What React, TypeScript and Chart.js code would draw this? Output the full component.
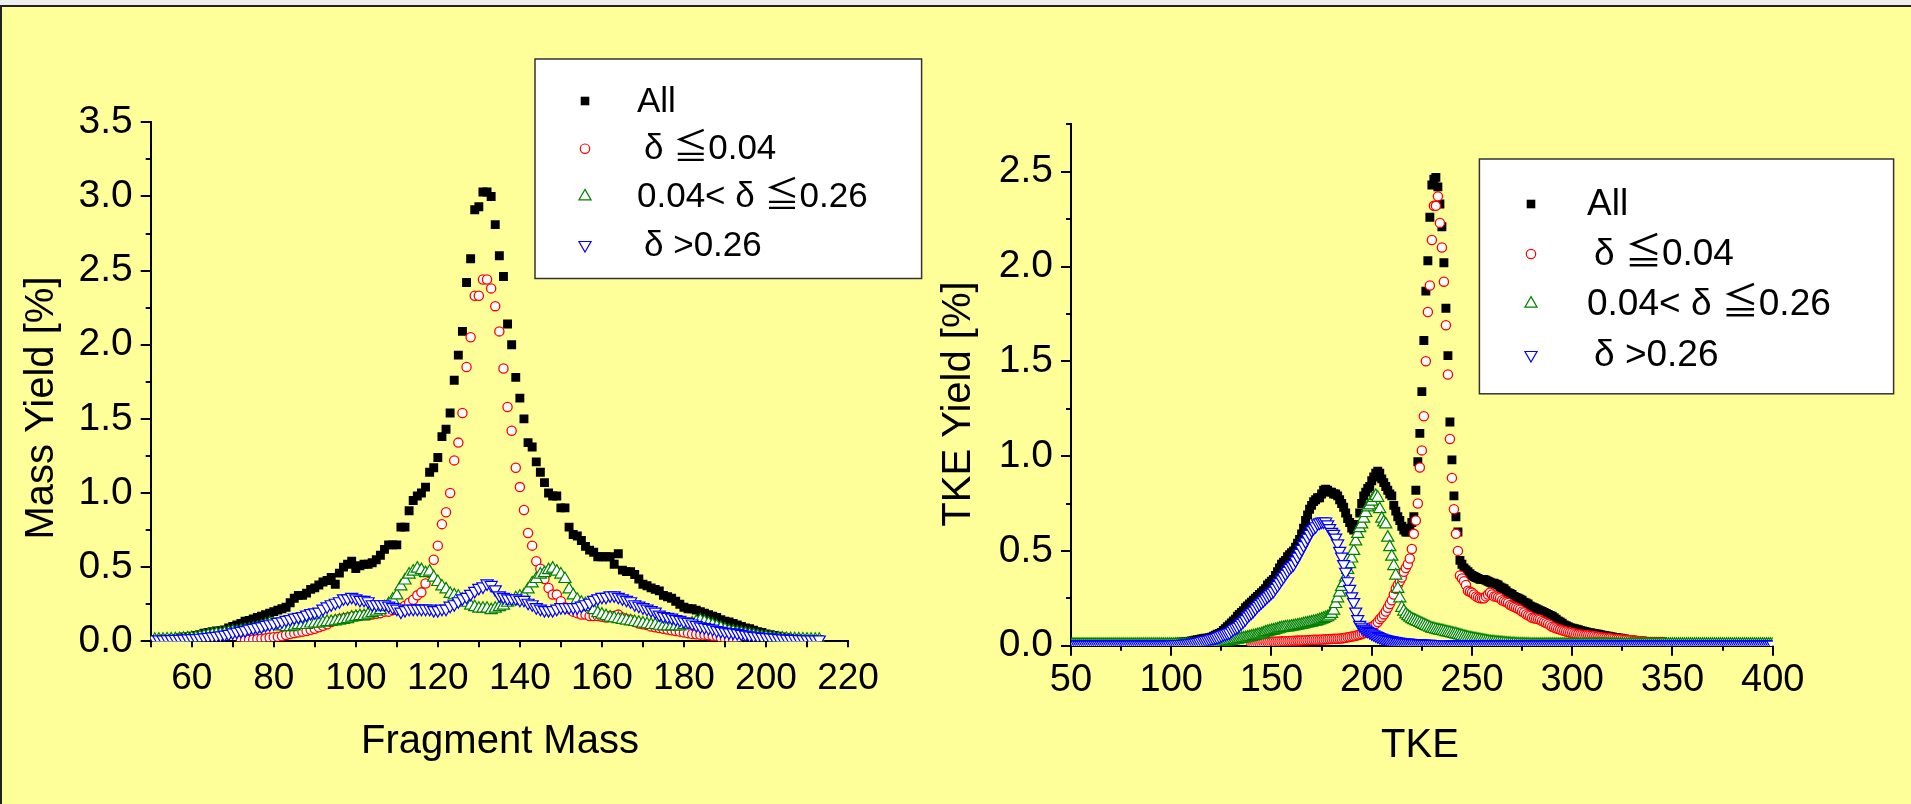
import React, { useEffect, useRef } from "react";
import { Chart, registerables } from "chart.js";
Chart.register(...registerables);

const W = 1911;
const H = 804;
const FONT = "'Liberation Sans', Arial, 'Noto Sans CJK JP', 'DejaVu Sans', sans-serif";

// ---------- Left chart: fragment mass (one point per mass number) ----------
const MASS_START = 51;
const MASS_ALL = [
  0.01, 0.01, 0.015, 0.015, 0.02, 0.02, 0.025, 0.03, 0.03, 0.035,
  0.04, 0.045, 0.055, 0.06, 0.065, 0.07, 0.072, 0.077, 0.09, 0.1,
  0.11, 0.12, 0.135, 0.14, 0.15, 0.16, 0.17, 0.18, 0.19, 0.2,
  0.21, 0.22, 0.23, 0.26, 0.29, 0.31, 0.31, 0.325, 0.35, 0.36,
  0.38, 0.4, 0.41, 0.43, 0.385, 0.46, 0.5, 0.52, 0.54, 0.49,
  0.51, 0.52, 0.52, 0.53, 0.55, 0.58, 0.62, 0.65, 0.65, 0.65,
  0.77, 0.77, 0.88, 0.95, 0.98, 1.0, 1.04, 1.14, 1.17, 1.24,
  1.38, 1.43, 1.54, 1.76, 1.93, 2.09, 2.42, 2.58, 2.91, 2.93,
  3.03, 3.03, 3.0, 2.81, 2.6, 2.46, 2.14, 2.0, 1.78, 1.64,
  1.5, 1.34, 1.31, 1.21, 1.14, 1.07, 1.0, 0.98, 0.98, 0.9,
  0.9, 0.77, 0.72, 0.71, 0.68, 0.64, 0.615, 0.6, 0.57, 0.57,
  0.57, 0.57, 0.52, 0.59, 0.48, 0.47, 0.47, 0.45, 0.42, 0.385,
  0.375, 0.36, 0.35, 0.34, 0.31, 0.3, 0.29, 0.27, 0.25, 0.23,
  0.22, 0.22, 0.21, 0.2, 0.19, 0.18, 0.17, 0.16, 0.145, 0.135,
  0.13, 0.12, 0.11, 0.1, 0.09, 0.085, 0.075, 0.065, 0.06, 0.05,
  0.045, 0.04, 0.035, 0.03, 0.025, 0.02, 0.02, 0.015, 0.015, 0.01,
  0.01, 0.01, 0.01,
];
const MASS_RED_START = 72;
const MASS_RED = [
  0.005, 0.008, 0.01, 0.012, 0.015, 0.018, 0.02, 0.025, 0.028,
  0.03, 0.035, 0.043, 0.05, 0.055, 0.06, 0.065, 0.07, 0.078, 0.085,
  0.095, 0.105, 0.115, 0.13, 0.14, 0.15, 0.155, 0.16, 0.165, 0.17,
  0.17, 0.175, 0.175, 0.18, 0.185, 0.19, 0.2, 0.2, 0.21, 0.215,
  0.225, 0.24, 0.26, 0.28, 0.31, 0.33, 0.39, 0.46, 0.55, 0.645,
  0.79, 0.87, 1.0, 1.22, 1.34, 1.54, 1.85, 2.05, 2.33, 2.33,
  2.44, 2.44, 2.38, 2.26, 2.09, 1.84, 1.58, 1.42, 1.17, 1.04,
  0.885, 0.73, 0.645, 0.54, 0.49, 0.42, 0.36, 0.315, 0.315, 0.27,
  0.23, 0.22, 0.2, 0.19, 0.18, 0.18, 0.17, 0.17, 0.17, 0.165,
  0.16, 0.17, 0.17, 0.18, 0.16, 0.15, 0.145, 0.13, 0.12, 0.115,
  0.11, 0.1, 0.095, 0.09, 0.085, 0.08, 0.075, 0.07, 0.065, 0.06,
  0.055, 0.05, 0.048, 0.045, 0.045, 0.04, 0.037, 0.035, 0.025, 0.02,
  0.015, 0.01, 0.008,
];
const MASS_GREEN = [
  0.01, 0.01, 0.01, 0.012, 0.012, 0.014, 0.015, 0.017, 0.02, 0.022,
  0.025, 0.03, 0.035, 0.04, 0.045, 0.05, 0.05, 0.055, 0.06, 0.065,
  0.065, 0.07, 0.075, 0.08, 0.085, 0.09, 0.1, 0.11, 0.12, 0.115,
  0.11, 0.1, 0.095, 0.095, 0.1, 0.11, 0.11, 0.11, 0.12, 0.12,
  0.12, 0.125, 0.13, 0.13, 0.135, 0.14, 0.145, 0.15, 0.16, 0.165,
  0.17, 0.17, 0.18, 0.19, 0.2, 0.21, 0.23, 0.25, 0.28, 0.31,
  0.37, 0.41, 0.45, 0.47, 0.49, 0.48, 0.46, 0.47, 0.43, 0.4,
  0.37, 0.35, 0.32, 0.31, 0.3, 0.28, 0.26, 0.24, 0.23, 0.22,
  0.22, 0.22, 0.21, 0.22, 0.23, 0.24, 0.26, 0.27, 0.29, 0.3,
  0.31, 0.35, 0.39, 0.42, 0.45, 0.46, 0.48, 0.49, 0.47, 0.45,
  0.42, 0.35, 0.31, 0.28, 0.26, 0.25, 0.23, 0.21, 0.19, 0.18,
  0.17, 0.16, 0.155, 0.15, 0.145, 0.14, 0.135, 0.13, 0.125, 0.12,
  0.115, 0.11, 0.11, 0.105, 0.1, 0.1, 0.1, 0.1, 0.1, 0.11,
  0.11, 0.12, 0.13, 0.14, 0.13, 0.12, 0.11, 0.1, 0.09, 0.08,
  0.07, 0.065, 0.06, 0.055, 0.05, 0.045, 0.04, 0.035, 0.03, 0.028,
  0.025, 0.022, 0.02, 0.018, 0.016, 0.015, 0.014, 0.013, 0.012, 0.011,
  0.01, 0.01, 0.01,
];
const MASS_BLUE = [
  0.012, 0.012, 0.013, 0.014, 0.015, 0.016, 0.017, 0.018, 0.02, 0.021,
  0.022, 0.024, 0.027, 0.03, 0.033, 0.036, 0.04, 0.045, 0.05, 0.06,
  0.065, 0.07, 0.075, 0.085, 0.09, 0.095, 0.1, 0.11, 0.115, 0.12,
  0.13, 0.135, 0.145, 0.15, 0.16, 0.165, 0.17, 0.18, 0.19, 0.195,
  0.2, 0.22, 0.235, 0.25, 0.26, 0.27, 0.29, 0.29, 0.3, 0.29,
  0.28, 0.28, 0.27, 0.25, 0.25, 0.25, 0.25, 0.24, 0.23, 0.22,
  0.2, 0.21, 0.22, 0.22, 0.22, 0.22, 0.22, 0.22, 0.21, 0.21,
  0.22, 0.22, 0.24, 0.25, 0.27, 0.29, 0.3, 0.32, 0.34, 0.36,
  0.37, 0.39, 0.38, 0.35, 0.31, 0.3, 0.29, 0.29, 0.29, 0.28,
  0.28, 0.26, 0.25, 0.23, 0.22, 0.21, 0.21, 0.21, 0.22, 0.23,
  0.23, 0.23, 0.23, 0.23, 0.24, 0.25, 0.26, 0.28, 0.29, 0.3,
  0.3, 0.31, 0.31, 0.3, 0.29, 0.28, 0.27, 0.25, 0.24, 0.23,
  0.22, 0.21, 0.2, 0.18, 0.17, 0.165, 0.16, 0.15, 0.145, 0.135,
  0.13, 0.12, 0.11, 0.1, 0.095, 0.09, 0.085, 0.075, 0.07, 0.065,
  0.06, 0.06, 0.055, 0.05, 0.045, 0.04, 0.037, 0.034, 0.03, 0.028,
  0.026, 0.025, 0.022, 0.02, 0.018, 0.017, 0.016, 0.015, 0.014, 0.013,
  0.013, 0.012, 0.012,
];

// ---------- Right chart: TKE (one point per MeV) ----------
const TKE_START = 50;
const TKE_ALL = [
  /*50*/ 0.01, 0.01, 0.01, 0.01, 0.01, 0.01, 0.01, 0.01, 0.01, 0.01,
  /*60*/ 0.01, 0.01, 0.01, 0.01, 0.01, 0.01, 0.01, 0.01, 0.01, 0.01,
  /*70*/ 0.01, 0.01, 0.01, 0.01, 0.01, 0.01, 0.01, 0.01, 0.01, 0.01,
  /*80*/ 0.012, 0.012, 0.012, 0.012, 0.012, 0.012, 0.012, 0.012, 0.012, 0.012,
  /*90*/ 0.012, 0.012, 0.012, 0.012, 0.012, 0.012, 0.012, 0.012, 0.012, 0.012,
  /*100*/ 0.015, 0.015, 0.016, 0.017, 0.018, 0.019, 0.02, 0.021, 0.022, 0.023,
  /*110*/ 0.025, 0.027, 0.029, 0.031, 0.033, 0.035, 0.037, 0.039, 0.04, 0.042,
  /*120*/ 0.045, 0.05, 0.055, 0.06, 0.065, 0.07, 0.08, 0.09, 0.1, 0.11,
  /*130*/ 0.12, 0.13, 0.14, 0.155, 0.165, 0.175, 0.185, 0.2, 0.21, 0.22,
  /*140*/ 0.23, 0.24, 0.25, 0.26, 0.27, 0.28, 0.29, 0.3, 0.32, 0.33,
  /*150*/ 0.34, 0.35, 0.37, 0.39, 0.41, 0.43, 0.44, 0.45, 0.47, 0.48,
  /*160*/ 0.49, 0.5, 0.52, 0.54, 0.56, 0.59, 0.62, 0.66, 0.69, 0.72,
  /*170*/ 0.74, 0.76, 0.77, 0.78, 0.78, 0.8, 0.82, 0.825, 0.82, 0.81,
  /*180*/ 0.81, 0.8, 0.8, 0.79, 0.77, 0.75, 0.73, 0.7, 0.67, 0.65,
  /*190*/ 0.62, 0.61, 0.62, 0.64, 0.7, 0.75, 0.79, 0.81, 0.83, 0.84,
  /*200*/ 0.87, 0.89, 0.91, 0.92, 0.91, 0.88, 0.86, 0.84, 0.82, 0.8,
  /*210*/ 0.79, 0.74, 0.71, 0.68, 0.66, 0.63, 0.61, 0.6, 0.6, 0.62,
  /*220*/ 0.65, 0.68, 0.82, 0.97, 1.12, 1.34, 1.61, 1.87, 2.03, 2.26,
  /*230*/ 2.43, 2.46, 2.47, 2.42, 2.33, 2.21, 2.02, 1.78, 1.53, 1.18,
  /*240*/ 0.98, 0.79, 0.68, 0.6, 0.45, 0.43, 0.41, 0.4, 0.39, 0.38,
  /*250*/ 0.37, 0.365, 0.36, 0.355, 0.35, 0.35, 0.35, 0.345, 0.34, 0.335,
  /*260*/ 0.33, 0.33, 0.325, 0.32, 0.31, 0.305, 0.3, 0.29, 0.28, 0.275,
  /*270*/ 0.27, 0.26, 0.255, 0.25, 0.245, 0.24, 0.23, 0.225, 0.22, 0.21,
  /*280*/ 0.205, 0.2, 0.195, 0.19, 0.185, 0.18, 0.175, 0.17, 0.165, 0.16,
  /*290*/ 0.155, 0.147, 0.14, 0.13, 0.125, 0.118, 0.11, 0.105, 0.1, 0.095,
  /*300*/ 0.092, 0.09, 0.087, 0.084, 0.081, 0.078, 0.075, 0.072, 0.07, 0.068,
  /*310*/ 0.066, 0.064, 0.062, 0.06, 0.058, 0.056, 0.054, 0.052, 0.05, 0.048,
  /*320*/ 0.046, 0.044, 0.043, 0.041, 0.039, 0.037, 0.035, 0.033, 0.031, 0.03,
  /*330*/ 0.029, 0.028, 0.027, 0.026, 0.025, 0.024, 0.023, 0.022, 0.021, 0.02,
  /*340*/ 0.02, 0.02, 0.02, 0.02, 0.02, 0.02,
];
const TKE_RED_START = 140;
const TKE_RED = [
  /*140*/ 0.01, 0.012, 0.013, 0.014, 0.015, 0.016, 0.017, 0.018, 0.019, 0.02,
  /*150*/ 0.02, 0.021, 0.021, 0.022, 0.022, 0.023, 0.023, 0.024, 0.024, 0.025,
  /*160*/ 0.025, 0.026, 0.026, 0.027, 0.027, 0.028, 0.028, 0.029, 0.029, 0.03,
  /*170*/ 0.03, 0.031, 0.031, 0.032, 0.032, 0.033, 0.033, 0.034, 0.034, 0.035,
  /*180*/ 0.035, 0.036, 0.037, 0.037, 0.038, 0.038, 0.04, 0.042, 0.044, 0.046,
  /*190*/ 0.048, 0.05, 0.052, 0.055, 0.058, 0.062, 0.065, 0.07, 0.08, 0.09,
  /*200*/ 0.1, 0.105, 0.115, 0.125, 0.14, 0.15, 0.165, 0.18, 0.2, 0.22,
  /*210*/ 0.24, 0.27, 0.3, 0.32, 0.34, 0.36, 0.39, 0.41, 0.43, 0.46,
  /*220*/ 0.51, 0.59, 0.66, 0.75, 0.94, 1.03, 1.21, 1.5, 1.76, 1.9,
  /*230*/ 2.14, 2.32, 2.32, 2.37, 2.23, 2.1, 1.92, 1.69, 1.43, 1.09,
  /*240*/ 0.885, 0.72, 0.59, 0.5, 0.37, 0.355, 0.34, 0.32, 0.29, 0.285,
  /*250*/ 0.28, 0.27, 0.26, 0.255, 0.25, 0.25, 0.25, 0.26, 0.27, 0.28,
  /*260*/ 0.27, 0.26, 0.26, 0.255, 0.25, 0.24, 0.235, 0.23, 0.225, 0.215,
  /*270*/ 0.21, 0.205, 0.2, 0.195, 0.19, 0.18, 0.175, 0.166, 0.16, 0.155,
  /*280*/ 0.147, 0.145, 0.142, 0.14, 0.137, 0.13, 0.125, 0.12, 0.115, 0.108,
  /*290*/ 0.1, 0.096, 0.092, 0.088, 0.085, 0.081, 0.078, 0.075, 0.072, 0.07,
  /*300*/ 0.068, 0.065, 0.062, 0.06, 0.059, 0.058, 0.057, 0.056, 0.054, 0.053,
  /*310*/ 0.052, 0.05, 0.048, 0.047, 0.045, 0.043, 0.042, 0.041, 0.04, 0.039,
  /*320*/ 0.038, 0.037, 0.036, 0.035, 0.034, 0.033, 0.032, 0.031, 0.03, 0.029,
  /*330*/ 0.028, 0.027, 0.026, 0.025, 0.024, 0.023, 0.022, 0.021, 0.02, 0.02,
  /*340*/ 0.02, 0.02, 0.02, 0.02, 0.02, 0.02,
];
const TKE_GREEN = [
  /*50*/ 0.005, 0.005, 0.005, 0.005, 0.005, 0.005, 0.005, 0.005, 0.005, 0.005,
  /*60*/ 0.005, 0.005, 0.005, 0.005, 0.005, 0.005, 0.005, 0.005, 0.005, 0.005,
  /*70*/ 0.005, 0.005, 0.005, 0.005, 0.005, 0.005, 0.005, 0.005, 0.005, 0.005,
  /*80*/ 0.005, 0.005, 0.005, 0.005, 0.005, 0.005, 0.005, 0.005, 0.005, 0.005,
  /*90*/ 0.005, 0.005, 0.005, 0.005, 0.005, 0.005, 0.005, 0.005, 0.005, 0.005,
  /*100*/ 0.005, 0.005, 0.005, 0.005, 0.005, 0.005, 0.005, 0.005, 0.005, 0.005,
  /*110*/ 0.005, 0.005, 0.005, 0.005, 0.005, 0.005, 0.005, 0.005, 0.005, 0.005,
  /*120*/ 0.005, 0.006, 0.008, 0.01, 0.012, 0.015, 0.018, 0.02, 0.022, 0.024,
  /*130*/ 0.026, 0.028, 0.03, 0.032, 0.034, 0.036, 0.038, 0.04, 0.042, 0.045,
  /*140*/ 0.047, 0.05, 0.052, 0.055, 0.058, 0.06, 0.065, 0.07, 0.072, 0.075,
  /*150*/ 0.078, 0.08, 0.083, 0.086, 0.09, 0.092, 0.094, 0.096, 0.097, 0.098,
  /*160*/ 0.1, 0.102, 0.104, 0.106, 0.108, 0.11, 0.113, 0.116, 0.118, 0.12,
  /*170*/ 0.122, 0.125, 0.127, 0.13, 0.134, 0.138, 0.142, 0.146, 0.15, 0.158,
  /*180*/ 0.168, 0.185, 0.22, 0.25, 0.28, 0.31, 0.33, 0.36, 0.4, 0.43,
  /*190*/ 0.46, 0.5, 0.55, 0.59, 0.62, 0.64, 0.67, 0.7, 0.73, 0.74,
  /*200*/ 0.76, 0.78, 0.79, 0.78, 0.72, 0.67, 0.65, 0.64, 0.57, 0.52,
  /*210*/ 0.47, 0.42, 0.37, 0.3, 0.25, 0.2, 0.18, 0.165, 0.156, 0.148,
  /*220*/ 0.14, 0.135, 0.13, 0.125, 0.12, 0.115, 0.11, 0.105, 0.1, 0.095,
  /*230*/ 0.09, 0.088, 0.085, 0.082, 0.08, 0.078, 0.075, 0.072, 0.07, 0.068,
  /*240*/ 0.065, 0.062, 0.06, 0.057, 0.054, 0.051, 0.048, 0.045, 0.042, 0.04,
  /*250*/ 0.038, 0.036, 0.034, 0.032, 0.03, 0.028, 0.026, 0.024, 0.022, 0.02,
  /*260*/ 0.019, 0.018, 0.017, 0.016, 0.015, 0.014, 0.013, 0.012, 0.011, 0.01,
  /*270*/ 0.009, 0.009, 0.008, 0.008, 0.007, 0.007, 0.006, 0.006, 0.006, 0.005,
  /*280*/ 0.005, 0.005, 0.005, 0.005, 0.005, 0.005, 0.005, 0.005, 0.005, 0.005,
  /*290*/ 0.005, 0.005, 0.005, 0.005, 0.005, 0.005, 0.005, 0.005, 0.005, 0.005,
  /*300*/ 0.005, 0.005, 0.005, 0.005, 0.005, 0.005, 0.005, 0.005, 0.005, 0.005,
  /*310*/ 0.005, 0.005, 0.005, 0.005, 0.005, 0.005, 0.005, 0.005, 0.005, 0.005,
  /*320*/ 0.005, 0.005, 0.005, 0.005, 0.005, 0.005, 0.005, 0.005, 0.005, 0.005,
  /*330*/ 0.005, 0.005, 0.005, 0.005, 0.005, 0.005, 0.005, 0.005, 0.005, 0.005,
  /*340*/ 0.005, 0.005, 0.005, 0.005, 0.005, 0.005, 0.005, 0.005, 0.005, 0.005,
  /*350*/ 0.005, 0.005, 0.005, 0.005, 0.005, 0.005, 0.005, 0.005, 0.005, 0.005,
  /*360*/ 0.005, 0.005, 0.005, 0.005, 0.005, 0.005, 0.005, 0.005, 0.005, 0.005,
  /*370*/ 0.005, 0.005, 0.005, 0.005, 0.005, 0.005, 0.005, 0.005, 0.005, 0.005,
  /*380*/ 0.005, 0.005, 0.005, 0.005, 0.005, 0.005, 0.005, 0.005, 0.005, 0.005,
  /*390*/ 0.005, 0.005, 0.005, 0.005, 0.005, 0.005, 0.005, 0.005, 0.005, 0.005,
  /*400*/ 0.005,
];
const TKE_BLUE = [
  /*50*/ 0.006, 0.006, 0.006, 0.006, 0.006, 0.006, 0.006, 0.006, 0.006, 0.006,
  /*60*/ 0.006, 0.006, 0.006, 0.006, 0.006, 0.006, 0.006, 0.006, 0.006, 0.006,
  /*70*/ 0.006, 0.006, 0.006, 0.006, 0.006, 0.006, 0.006, 0.006, 0.006, 0.006,
  /*80*/ 0.006, 0.006, 0.006, 0.006, 0.006, 0.006, 0.006, 0.006, 0.006, 0.006,
  /*90*/ 0.006, 0.006, 0.006, 0.006, 0.006, 0.006, 0.006, 0.006, 0.006, 0.006,
  /*100*/ 0.007, 0.007, 0.008, 0.008, 0.009, 0.009, 0.01, 0.011, 0.012, 0.013,
  /*110*/ 0.014, 0.016, 0.018, 0.02, 0.022, 0.025, 0.028, 0.03, 0.032, 0.035,
  /*120*/ 0.038, 0.04, 0.043, 0.046, 0.05, 0.055, 0.06, 0.063, 0.067, 0.07,
  /*130*/ 0.08, 0.088, 0.095, 0.1, 0.11, 0.12, 0.13, 0.14, 0.155, 0.165,
  /*140*/ 0.175, 0.185, 0.197, 0.21, 0.22, 0.23, 0.24, 0.25, 0.26, 0.27,
  /*150*/ 0.28, 0.29, 0.305, 0.32, 0.335, 0.35, 0.365, 0.38, 0.395, 0.41,
  /*160*/ 0.42, 0.43, 0.45, 0.47, 0.49, 0.51, 0.53, 0.55, 0.57, 0.59,
  /*170*/ 0.61, 0.62, 0.63, 0.645, 0.65, 0.655, 0.655, 0.655, 0.64, 0.62,
  /*180*/ 0.6, 0.59, 0.57, 0.54, 0.5, 0.47, 0.43, 0.39, 0.34, 0.3,
  /*190*/ 0.26, 0.23, 0.18, 0.14, 0.11, 0.1, 0.09, 0.085, 0.078, 0.072,
  /*200*/ 0.065, 0.06, 0.055, 0.05, 0.046, 0.042, 0.038, 0.035, 0.032, 0.03,
  /*210*/ 0.028, 0.026, 0.024, 0.022, 0.02, 0.019, 0.018, 0.017, 0.016, 0.015,
  /*220*/ 0.014, 0.013, 0.013, 0.012, 0.012, 0.011, 0.011, 0.01, 0.01, 0.01,
  /*230*/ 0.009, 0.009, 0.009, 0.008, 0.008, 0.008, 0.007, 0.007, 0.007, 0.007,
  /*240*/ 0.006, 0.006, 0.006, 0.006, 0.006, 0.006, 0.006, 0.006, 0.006, 0.006,
  /*250*/ 0.006, 0.006, 0.006, 0.006, 0.006, 0.006, 0.006, 0.006, 0.006, 0.006,
  /*260*/ 0.006, 0.006, 0.006, 0.006, 0.006, 0.006, 0.006, 0.006, 0.006, 0.006,
  /*270*/ 0.006, 0.006, 0.006, 0.006, 0.006, 0.006, 0.006, 0.006, 0.006, 0.006,
  /*280*/ 0.006, 0.006, 0.006, 0.006, 0.006, 0.006, 0.006, 0.006, 0.006, 0.006,
  /*290*/ 0.006, 0.006, 0.006, 0.006, 0.006, 0.006, 0.006, 0.006, 0.006, 0.006,
  /*300*/ 0.006, 0.006, 0.006, 0.006, 0.006, 0.006, 0.006, 0.006, 0.006, 0.006,
  /*310*/ 0.006, 0.006, 0.006, 0.006, 0.006, 0.006, 0.006, 0.006, 0.006, 0.006,
  /*320*/ 0.006, 0.006, 0.006, 0.006, 0.006, 0.006, 0.006, 0.006, 0.006, 0.006,
  /*330*/ 0.006, 0.006, 0.006, 0.006, 0.006, 0.006, 0.006, 0.006, 0.006, 0.006,
  /*340*/ 0.006, 0.006, 0.006, 0.006, 0.006, 0.006, 0.006, 0.006, 0.006, 0.006,
  /*350*/ 0.006, 0.006, 0.006, 0.006, 0.006, 0.006, 0.006, 0.006, 0.006, 0.006,
  /*360*/ 0.006, 0.006, 0.006, 0.006, 0.006, 0.006, 0.006, 0.006, 0.006, 0.006,
  /*370*/ 0.006, 0.006, 0.006, 0.006, 0.006, 0.006, 0.006, 0.006, 0.006, 0.006,
  /*380*/ 0.006, 0.006, 0.006, 0.006, 0.006, 0.006, 0.006, 0.006, 0.006, 0.006,
  /*390*/ 0.006, 0.006, 0.006, 0.006, 0.006, 0.006, 0.006, 0.006, 0.006, 0.006,
  /*400*/ 0.006,
];

const LEGEND_LABELS = ["All", "δ ≦0.04", "0.04< δ ≦0.26", "δ >0.26"];
const MASS_X_TITLE = "Fragment Mass";
const MASS_Y_TITLE = "Mass Yield [%]";
const TKE_X_TITLE = "TKE";
const TKE_Y_TITLE = "TKE Yield [%]";

// ---------- styles ----------
const SERIES_STYLE = [
  { kind: "square", color: "#000000" },
  { kind: "circle", color: "#ff0000" },
  { kind: "up", color: "#008000" },
  { kind: "down", color: "#0000ff" },
];
const TRI_R = 7;

function toPoints(start: number, values: number[]) {
  return values.map((v, i) => ({ x: start + i, y: v }));
}

function makeDatasets(series: { start: number; values: number[] }[]) {
  return series.map((s, i) => {
    const st = SERIES_STYLE[i];
    const base: any = {
      label: LEGEND_LABELS[i],
      data: toPoints(s.start, s.values),
      showLine: false,
      order: 4 - i,
      borderColor: st.color,
      pointBorderColor: st.color,
    };
    if (st.kind === "square") {
      Object.assign(base, {
        pointStyle: "rect",
        pointRadius: 6.3,
        pointBackgroundColor: st.color,
        pointBorderWidth: 0,
      });
    } else if (st.kind === "circle") {
      Object.assign(base, {
        pointStyle: "circle",
        pointRadius: 4.6,
        pointBackgroundColor: "#ffffff",
        pointBorderWidth: 1.3,
      });
    } else {
      Object.assign(base, {
        pointStyle: "triangle",
        pointRotation: st.kind === "down" ? 180 : 0,
        pointRadius: TRI_R,
        pointBackgroundColor: "#ffffff",
        pointBorderWidth: 1.2,
      });
    }
    return base;
  });
}

function drawMarker(ctx: CanvasRenderingContext2D, kind: string, color: string, x: number, y: number) {
  ctx.save();
  ctx.strokeStyle = color;
  ctx.fillStyle = color;
  ctx.lineWidth = 1.2;
  if (kind === "square") {
    ctx.fillRect(x - 4.3, y - 4.3, 8.6, 8.6);
  } else if (kind === "circle") {
    ctx.beginPath();
    ctx.arc(x, y, 4.7, 0, Math.PI * 2);
    ctx.fillStyle = "#fff";
    ctx.fill();
    ctx.stroke();
  } else {
    const r = TRI_R;
    const s = kind === "down" ? -1 : 1;
    ctx.beginPath();
    ctx.moveTo(x, y - s * r);
    ctx.lineTo(x + r * 0.866, y + s * r * 0.5);
    ctx.lineTo(x - r * 0.866, y + s * r * 0.5);
    ctx.closePath();
    ctx.fillStyle = "#fff";
    ctx.fill();
    ctx.stroke();
  }
  ctx.restore();
}

type Decor = {
  xTitle: string;
  yTitle: string;
  xTitlePos: [number, number];
  yTitlePos: [number, number];
  titleFont: number;
  legendBox: [number, number, number, number];
  legendMarkerX: number;
  legendTextX: number;
  legendRows: number[];
  legendIndent: number[];
  legendFont: number;
  xMajor: number;
  xMinor: number;
  yMajor: number;
  yMinor: number;
};

function decorPlugin(d: Decor) {
  return {
    id: "decor",
    afterDraw(chart: any) {
      const ctx: CanvasRenderingContext2D = chart.ctx;
      const xs = chart.scales.x;
      const ys = chart.scales.y;
      const area = chart.chartArea;
      ctx.save();
      ctx.strokeStyle = "#000";
      ctx.lineWidth = 2;
      ctx.beginPath();
      for (const t of ys.ticks) {
        const p = Math.round(ys.getPixelForValue(t.value));
        const len = t.label ? d.yMajor : d.yMinor;
        ctx.moveTo(area.left - len, p);
        ctx.lineTo(area.left, p);
      }
      for (const t of xs.ticks) {
        const p = Math.round(xs.getPixelForValue(t.value));
        const len = t.label ? d.xMajor : d.xMinor;
        ctx.moveTo(p, area.bottom);
        ctx.lineTo(p, area.bottom + len);
      }
      ctx.stroke();

      // axis titles
      ctx.fillStyle = "#000";
      ctx.font = `${d.titleFont}px ${FONT}`;
      ctx.textAlign = "center";
      ctx.textBaseline = "middle";
      ctx.fillText(d.xTitle, d.xTitlePos[0], d.xTitlePos[1]);
      ctx.save();
      ctx.translate(d.yTitlePos[0], d.yTitlePos[1]);
      ctx.rotate(-Math.PI / 2);
      ctx.fillText(d.yTitle, 0, 0);
      ctx.restore();

      // legend
      const [bx, by, bw, bh] = d.legendBox;
      ctx.fillStyle = "#ffffff";
      ctx.fillRect(bx, by, bw, bh);
      ctx.strokeStyle = "#333333";
      ctx.lineWidth = 1.5;
      ctx.strokeRect(bx, by, bw, bh);
      ctx.font = `${d.legendFont}px ${FONT}`;
      ctx.textAlign = "left";
      ctx.textBaseline = "middle";
      LEGEND_LABELS.forEach((lab, i) => {
        const st = SERIES_STYLE[i];
        const y = d.legendRows[i];
        drawMarker(ctx, st.kind, st.color, d.legendMarkerX, y);
        ctx.fillStyle = "#000";
        ctx.fillText(lab, d.legendTextX + d.legendIndent[i], y + 1);
      });
      ctx.restore();
    },
  };
}

function makeConfig(opts: {
  datasets: any[];
  xMin: number;
  xMax: number;
  xStep: number;
  xLabelEvery: number;
  xFont: number;
  xPad: number;
  yMax: number;
  padding: { left: number; right: number; top: number; bottom: number };
  yWidth: number;
  decor: Decor;
}) {
  return {
    type: "scatter" as const,
    data: { datasets: opts.datasets },
    options: {
      responsive: false,
      animation: false as const,
      devicePixelRatio: 1,
      layout: { padding: opts.padding },
      plugins: { legend: { display: false }, tooltip: { enabled: false } },
      scales: {
        x: {
          type: "linear" as const,
          min: opts.xMin,
          max: opts.xMax,
          grid: { display: false, drawTicks: false },
          border: { display: true, color: "#000", width: 2 },
          afterFit: (s: any) => {
            s.height = 60;
          },
          ticks: {
            stepSize: opts.xStep,
            autoSkip: false,
            maxRotation: 0,
            padding: opts.xPad,
            color: "#000",
            font: { family: FONT, size: opts.xFont },
            callback: (v: number) =>
              Math.abs(v % opts.xLabelEvery) < 1e-9 ? String(v) : "",
          },
        },
        y: {
          type: "linear" as const,
          min: 0,
          max: opts.yMax,
          grid: { display: false, drawTicks: false },
          border: { display: true, color: "#000", width: 2 },
          afterFit: (s: any) => {
            s.width = opts.yWidth;
          },
          ticks: {
            stepSize: 0.25,
            autoSkip: false,
            padding: 18,
            color: "#000",
            font: { family: FONT, size: 39 },
            callback: (v: number) => {
              const h = v * 2;
              return Math.abs(h - Math.round(h)) < 1e-6 ? v.toFixed(1) : "";
            },
          },
        },
      },
    },
    plugins: [decorPlugin(opts.decor)],
  };
}

export default function App() {
  const leftRef = useRef<HTMLCanvasElement>(null);
  const rightRef = useRef<HTMLCanvasElement>(null);

  useEffect(() => {
    const leftDs = makeDatasets([
      { start: MASS_START, values: MASS_ALL },
      { start: MASS_RED_START, values: MASS_RED },
      { start: MASS_START, values: MASS_GREEN },
      { start: MASS_START, values: MASS_BLUE },
    ]);
    const rightDs = makeDatasets([
      { start: TKE_START, values: TKE_ALL },
      { start: TKE_RED_START, values: TKE_RED },
      { start: TKE_START, values: TKE_GREEN },
      { start: TKE_START, values: TKE_BLUE },
    ]);

    const left = new Chart(
      leftRef.current as HTMLCanvasElement,
      makeConfig({
        datasets: leftDs,
        xMin: 50,
        xMax: 220,
        xStep: 10,
        xLabelEvery: 20,
        xFont: 37,
        xPad: 15,
        yMax: 3.5,
        padding: { left: 0, right: W - 848, top: 122.3, bottom: H - 641.3 - 60 },
        yWidth: 150.7,
        decor: {
          xTitle: MASS_X_TITLE,
          yTitle: MASS_Y_TITLE,
          xTitlePos: [500, 742],
          yTitlePos: [42, 408],
          titleFont: 40,
          legendBox: [535, 59, 386.6, 219.5],
          legendMarkerX: 585,
          legendTextX: 637,
          legendRows: [101, 148.7, 196.4, 245],
          legendIndent: [0, 7, 0, 7],
          legendFont: 35,
          xMajor: 6,
          xMinor: 6,
          yMajor: 10,
          yMinor: 5,
        },
      }) as any
    );

    const right = new Chart(
      rightRef.current as HTMLCanvasElement,
      makeConfig({
        datasets: rightDs,
        xMin: 50,
        xMax: 400,
        xStep: 25,
        xLabelEvery: 50,
        xFont: 38,
        xPad: 12.5,
        yMax: 2.75,
        padding: { left: 1071 - 120, right: W - 1772.7, top: 124.3, bottom: H - 645.7 - 60 },
        yWidth: 120,
        decor: {
          xTitle: TKE_X_TITLE,
          yTitle: TKE_Y_TITLE,
          xTitlePos: [1420, 746],
          yTitlePos: [959, 404],
          titleFont: 40,
          legendBox: [1479.4, 159, 414.2, 234.8],
          legendMarkerX: 1531,
          legendTextX: 1587,
          legendRows: [204, 254, 303.6, 355],
          legendIndent: [0, 7, 0, 7],
          legendFont: 37,
          xMajor: 10,
          xMinor: 5,
          yMajor: 10,
          yMinor: 5,
        },
      }) as any
    );

    return () => {
      left.destroy();
      right.destroy();
    };
  }, []);

  return (
    <div
      style={{
        position: "fixed",
        left: 0,
        top: 0,
        width: W,
        height: H,
        background: "#FFFF99",
        overflow: "hidden",
      }}
    >
      <div style={{ position: "absolute", left: 0, top: 0, width: W, height: 5, background: "#eeeeee" }} />
      <div style={{ position: "absolute", left: 0, top: 5, width: W, height: 2, background: "#222222" }} />
      <div style={{ position: "absolute", left: 0, top: 5, width: 2, height: H - 5, background: "#222222" }} />
      <canvas
        ref={leftRef}
        width={W}
        height={H}
        style={{ position: "absolute", left: 0, top: 0, width: W, height: H }}
      />
      <canvas
        ref={rightRef}
        width={W}
        height={H}
        style={{ position: "absolute", left: 0, top: 0, width: W, height: H }}
      />
    </div>
  );
}
